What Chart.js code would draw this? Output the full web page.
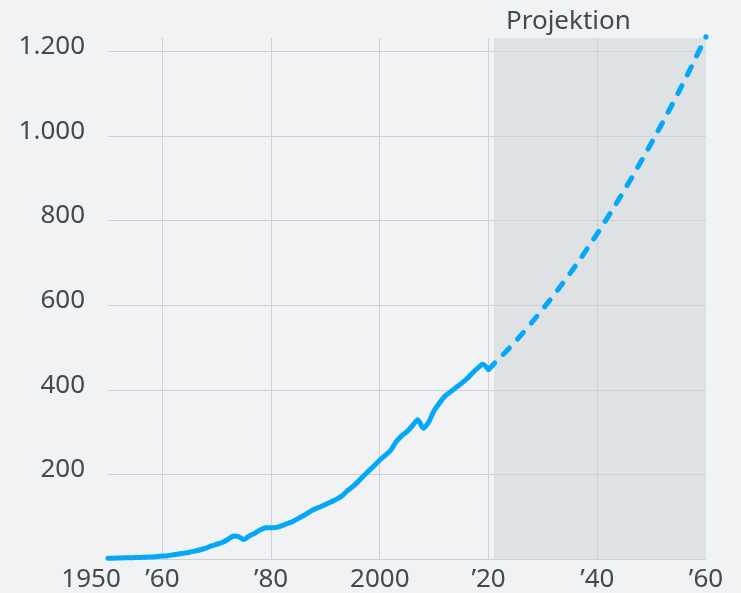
<!DOCTYPE html>
<html>
<head>
<meta charset="utf-8">
<script src="https://cdn.jsdelivr.net/npm/chart.js@4.4.0/dist/chart.umd.min.js"></script>
<style>
  html, body { margin: 0; padding: 0; background: #f1f2f4; }
  canvas { display: block; }
</style>
</head>
<body>
<canvas id="chart" width="741" height="593"></canvas>
<script>
// --- DATA ---
const histYears = [1950,1951,1952,1953,1954,1955,1956,1957,1958,1959,
  1960,1961,1962,1963,1964,1965,1966,1967,1968,1969,
  1970,1971,1972,1973,1974,1975,1976,1977,1978,1979,
  1980,1981,1982,1983,1984,1985,1986,1987,1988,1989,
  1990,1991,1992,1993,1994,1995,1996,1997,1998,1999,
  2000,2001,2002,2003,2004,2005,2006,2007,2008,2009,
  2010,2011,2012,2013,2014,2015,2016,2017,2018,2019,
  2020];
const histValues = [3,3,3.5,4,4,4.5,5,5.5,6,7,
  8,9,11,13,15,17,20,23,27,32,
  36,40,47,55,54,47,56,62,70,75,
  75,76,80,85,90,97,104,112,119,124,
  130,136,142,150,162,172,184,197,210,222,
  235,246,258,278,292,302,316,330,310,325,
  352,370,386,396,406,416,427,440,452,461,
  449];
const projYears = [2020, 2025, 2030, 2035, 2040, 2045, 2050, 2055, 2060];
const projValues = [449, 516, 592, 676, 770, 873, 985, 1105, 1235];

const xTickYears = [1950, 1960, 1980, 2000, 2020, 2040, 2060];
const yTickValues = [0, 200, 400, 600, 800, 1000, 1200];
const shadeStart = 2021;
const shadeLabel = 'Projektion';

const textColor = '#43494f';
const gridColor = '#cdd0d4';
const lineColor = '#05a8f7';
const fontFamily = '"Noto Sans", "Open Sans", sans-serif';

// --- PLUGIN: background, projection band and its label ---
const projShade = {
  id: 'projShade',
  beforeDraw(chart) {
    const { ctx, chartArea, scales: { x } } = chart;
    ctx.save();
    ctx.fillStyle = '#f1f2f4';
    ctx.fillRect(0, 0, chart.width, chart.height);
    const x0 = x.getPixelForValue(shadeStart);
    ctx.fillStyle = '#dfe2e5';
    ctx.fillRect(x0, chartArea.top, chartArea.right - x0, chartArea.bottom - chartArea.top);
    ctx.fillStyle = textColor;
    ctx.font = '26px ' + fontFamily;
    ctx.textBaseline = 'alphabetic';
    ctx.textAlign = 'left';
    ctx.fillText(shadeLabel, x0 + 12, 29);
    ctx.restore();
  }
};

const ctx = document.getElementById('chart').getContext('2d');
new Chart(ctx, {
  type: 'line',
  data: {
    datasets: [
      {
        data: histYears.map((y, i) => ({ x: y, y: histValues[i] })),
        borderColor: lineColor,
        borderWidth: 5,
        pointRadius: 0,
        tension: 0.3,
        borderCapStyle: 'round',
        borderJoinStyle: 'round',
        clip: false
      },
      {
        data: projYears.map((y, i) => ({ x: y, y: projValues[i] })),
        borderColor: lineColor,
        borderWidth: 5,
        borderDash: [9, 12],
        borderCapStyle: 'round',
        pointRadius: 0,
        cubicInterpolationMode: 'monotone',
        clip: false
      }
    ]
  },
  options: {
    responsive: false,
    animation: false,
    devicePixelRatio: 1,
    layout: { padding: { top: 38, right: 35, bottom: 0, left: 0 } },
    plugins: {
      legend: { display: false },
      tooltip: { enabled: false }
    },
    scales: {
      x: {
        type: 'linear',
        min: 1950,
        max: 2060,
        afterBuildTicks: (scale) => { scale.ticks = xTickYears.map(v => ({ value: v })); },
        afterFit: (scale) => { scale.height = 33.5; },
        border: { display: false },
        grid: {
          drawTicks: false,
          color: (c) => (c.tick && (c.tick.value === 1950 || c.tick.value === 2060)) ? 'rgba(0,0,0,0)' : gridColor
        },
        ticks: {
          padding: 4,
          color: textColor,
          font: { family: fontFamily, size: 26 },
          maxRotation: 0,
          autoSkip: false,
          // first label sits left of its tick, so pad it on the right
          callback: (v) => v === 1950 ? '1950     ' : v === 2000 ? '2000' : '\u2019' + String(v).slice(2)
        }
      },
      y: {
        min: 0,
        max: 1232,
        afterBuildTicks: (scale) => { scale.ticks = yTickValues.map(v => ({ value: v })); },
        afterFit: (scale) => {
          scale.width = 108;
          scale.paddingTop = 0;
          scale.paddingBottom = 0;
        },
        border: { display: false },
        grid: { drawTicks: false, color: gridColor },
        ticks: {
          padding: 23,
          labelOffset: -5,
          color: textColor,
          font: { family: fontFamily, size: 26 },
          callback: (v) => v === 0 ? '' : v.toLocaleString('de-DE')
        }
      }
    }
  },
  plugins: [projShade]
});
</script>
</body>
</html>
